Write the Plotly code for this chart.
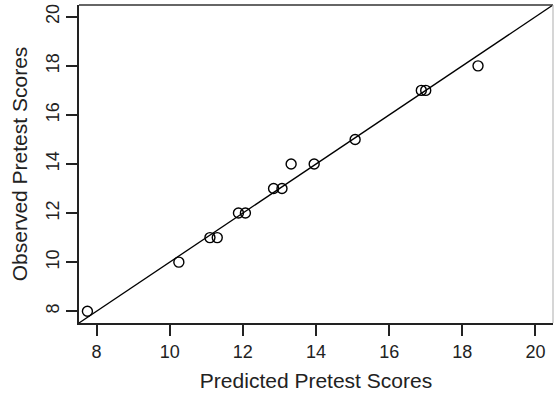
import plotly.graph_objects as go

# Data
predicted = [7.75, 10.25, 11.10, 11.30, 11.88, 12.07, 12.84, 13.07, 13.32, 13.95, 15.07, 16.88, 17.00, 18.43]
observed  = [8, 10, 11, 11, 12, 12, 13, 13, 14, 14, 15, 17, 17, 18]
identity_line = [7, 21]          # y = x reference line endpoints (data units)
tick_vals = [8, 10, 12, 14, 16, 18, 20]
axis_range = [7.52, 20.48]

FONT = "Liberation Sans, Arial, sans-serif"

fig = go.Figure()
fig.add_trace(go.Scatter(
    x=identity_line, y=identity_line, mode="lines",
    line=dict(color="black", width=1.3), hoverinfo="skip", showlegend=False))
fig.add_trace(go.Scatter(
    x=predicted, y=observed, mode="markers",
    marker=dict(symbol="circle-open", size=10, color="black", line=dict(width=1.4)),
    showlegend=False, cliponaxis=False))

axis_common = dict(
    range=axis_range, tickvals=tick_vals, ticks="outside", ticklen=11, tickwidth=1.5,
    tickcolor="#222", showgrid=False, zeroline=False, showline=True, linewidth=2,
    linecolor="#222", tickfont=dict(family=FONT, size=18, color="#222"), automargin=False,
)

fig.update_layout(
    width=554, height=394,
    margin=dict(l=79, r=1, t=5, b=71),
    paper_bgcolor="white", plot_bgcolor="white",
    xaxis=dict(**axis_common,
               title=dict(text="Predicted Pretest Scores", font=dict(family=FONT, size=21, color="#222"),
                          standoff=13)),
    yaxis=dict(**axis_common, tickangle=-90,
               title=dict(text="Observed Pretest Scores", font=dict(family=FONT, size=21, color="#222"),
                          standoff=9)),
    shapes=[
        dict(type="line", xref="paper", yref="paper", x0=0, x1=1, y0=1, y1=1,
             line=dict(color="#333", width=1.5)),
        dict(type="line", xref="paper", yref="paper", x0=1, x1=1, y0=0, y1=1,
             line=dict(color="#bbb", width=1.2)),
    ],
)

fig.write_html("out.html", config={"displayModeBar": False},
               post_script="document.body.style.margin='0';document.body.style.overflow='hidden';")
